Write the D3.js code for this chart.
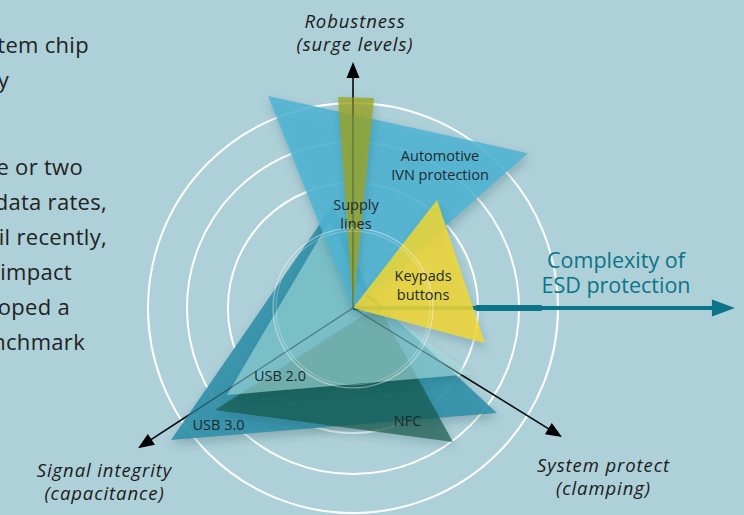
<!DOCTYPE html>
<html><head><meta charset="utf-8">
<script src="https://cdn.jsdelivr.net/npm/d3@7"></script>
<style>
html,body{margin:0;padding:0;background:#aed0d8;}
svg{display:block;}
</style></head><body>
<svg id="chart" width="744" height="515"></svg>
<script>
// ---------------- DATA ----------------
// Body text fragments (cropped paragraph at the left)
const bodyLines = ["tem chip", "y", "e or two", "data rates,", "il recently,", "impact", "oped a", "nchmark"];

// Radar axes: [angle in degrees (ccw from east), length in chart units]
const axisNames = [["Robustness", "(surge levels)"], ["Signal integrity", "(capacitance)"], ["System protect", "(clamping)"]];
const axisAngles = [90, 213.1, -31.7];
const axisLengths = [12.0, 12.52, 11.98];

// Concentric rings (chart units)
const ringValues = [6.1, 8.1, 10];
const innerRingValues = [3.9, 3.75];

// Complexity axis
const complexityTitle = ["Complexity of", "ESD protection"];
const complexityLength = 18.63;
const complexityBand = [6.0, 9.2];

// Application shapes: vertices as [angle deg, value]
const usb30Points = [[101, 5.12], [215.95, 10.97], [-36.1, 8.69], [37.4, 1.04]];
const nfcPoints = [[4.6, 1.22], [216.5, 8.37], [-53.3, 8.16]];
const usb20Points = [[104.6, 4.44], [214.6, 7.47], [-29.0, 6.64], [45, 0.83]];
const automotivePoints = [[111.85, 11.14], [41.5, 11.40], [0, 0]];
const supplyPoints = [[94.07, 10.32], [84.29, 10.30], [0, 0]];
const keypadPoints = [[52.1, 6.67], [-14.85, 6.66], [0, 0]];

const shapeNames = ["USB 3.0", "NFC", "USB 2.0", "Automotive IVN protection", "Supply lines", "Keypads buttons"];
const shapeLabels = [["USB 3.0"], ["NFC"], ["USB 2.0"], ["Automotive", "IVN protection"], ["Supply", "lines"], ["Keypads", "buttons"]];
const shapeLabelAt = [[222.3, 8.87], [-65.2, 6.34], [225, 5.04], [57.68, 7.94], [88.06, 4.32], [14.4, 3.53]];
const shapePoints = [usb30Points, nfcPoints, usb20Points, automotivePoints, supplyPoints, keypadPoints];

// ---------------- STYLES ----------------
const shapeFill = ["#3290a8", "#0d5545", "#a6dede", "#4fb3d3", "#9aa420", "#f2d830"];
const shapeOpacity = [0.9, 0.65, 0.58, 0.86, 0.78, 0.82];
const teal = "#0b7488";
const ink = "#1b1b1b";

// ---------------- LAYOUT ----------------
const W = 744, H = 515;
const cx = 353, cy = 308;
const r = d3.scaleLinear().domain([0, 10]).range([0, 205]);
const rad = d => d * Math.PI / 180;
const pt = (a, v) => [cx + r(v) * Math.cos(rad(a)), cy - r(v) * Math.sin(rad(a))];

const svg = d3.select("#chart");
const defs = svg.append("defs");
const flt = defs.append("filter").attr("id", "shadow")
  .attr("x", "-30%").attr("y", "-30%").attr("width", "160%").attr("height", "170%");
flt.append("feDropShadow").attr("dx", 1).attr("dy", 5).attr("stdDeviation", 5)
  .attr("flood-color", "#1f3f4a").attr("flood-opacity", 0.28);

svg.append("rect").attr("width", W).attr("height", H).attr("fill", "#aed0d8");

// Body text (right-aligned fragments, cropped by the left edge as in the source)
const bodyRight = [89, 9, 83, 107, 107, 72, 70, 85];
const bodyBase = [53, 88, 175, 210, 245, 280, 315, 350];
svg.append("g").selectAll("text").data(bodyLines).join("text")
  .attr("x", (d, i) => bodyRight[i]).attr("y", (d, i) => bodyBase[i])
  .attr("text-anchor", "end")
  .attr("font-family", "'Open Sans', Lato, sans-serif").attr("font-size", 22)
  .attr("letter-spacing", 0.3)
  .attr("fill", "#222").text(d => d);

// Rings
svg.append("g").selectAll("circle").data(ringValues).join("circle")
  .attr("cx", cx).attr("cy", cy).attr("r", d => r(d))
  .attr("fill", "none").attr("stroke", "#ffffff").attr("stroke-width", 2);

// Axes (under shapes)
function arrowHead(a, len, L, Wd) {
  const [tx, ty] = pt(a, len);
  const ux = Math.cos(rad(a)), uy = -Math.sin(rad(a));
  const bx = tx - L * ux, by = ty - L * uy;
  const nx = -uy, ny = ux;
  return `M${tx},${ty}L${bx + Wd * nx},${by + Wd * ny}L${bx - Wd * nx},${by - Wd * ny}Z`;
}
const axisG = svg.append("g");
axisG.selectAll("line").data(axisAngles).join("line")
  .attr("x1", cx).attr("y1", cy)
  .attr("x2", (d, i) => pt(d, axisLengths[i] - 0.6)[0])
  .attr("y2", (d, i) => pt(d, axisLengths[i] - 0.6)[1])
  .attr("stroke", "#000").attr("stroke-width", 1.5);
axisG.selectAll("path").data(axisAngles).join("path")
  .attr("d", (d, i) => arrowHead(d, axisLengths[i], 16, 6.5)).attr("fill", "#000");

// Shapes
const radial = d3.lineRadial()
  .angle(d => rad(90 - d[0]))
  .radius(d => r(d[1]))
  .curve(d3.curveLinearClosed);

const shapeG = svg.append("g").attr("transform", `translate(${cx},${cy})`);
function drawShape(i) {
  shapeG.append("path").datum(shapePoints[i])
    .attr("d", radial)
    .attr("fill", shapeFill[i]).attr("fill-opacity", shapeOpacity[i])
    .attr("filter", "url(#shadow)");
}
[0, 1, 2, 3, 4].forEach(drawShape);

// Complexity axis (under keypads shape)
const cxG = svg.append("g");
const cEnd = pt(0, complexityLength - 1.1);
cxG.append("line").attr("x1", cx).attr("y1", cy).attr("x2", cEnd[0]).attr("y2", cEnd[1])
  .attr("stroke", teal).attr("stroke-width", 4);
cxG.append("line")
  .attr("x1", pt(0, complexityBand[0])[0]).attr("y1", cy)
  .attr("x2", pt(0, complexityBand[1])[0]).attr("y2", cy)
  .attr("stroke", teal).attr("stroke-width", 6);
cxG.append("path").attr("d", arrowHead(0, complexityLength, 23, 8.5)).attr("fill", teal);

// Keypads on top
const kpG = svg.append("g").attr("transform", `translate(${cx},${cy})`);
kpG.append("path").datum(shapePoints[5]).attr("d", radial)
  .attr("fill", shapeFill[5]).attr("fill-opacity", shapeOpacity[5])
  .attr("filter", "url(#shadow)");

// Faint overlay of axes through shapes
svg.append("g").selectAll("line").data(axisAngles).join("line")
  .attr("x1", cx).attr("y1", cy)
  .attr("x2", (d, i) => pt(d, axisLengths[i] - 0.6)[0])
  .attr("y2", (d, i) => pt(d, axisLengths[i] - 0.6)[1])
  .attr("stroke", "#1a2a2e").attr("stroke-opacity", 0.45).attr("stroke-width", 1.1);

// Inner faint ring
svg.append("g").selectAll("circle").data(innerRingValues).join("circle")
  .attr("cx", cx).attr("cy", cy).attr("r", d => r(d))
  .attr("fill", "none").attr("stroke", "#ffffff")
  .attr("stroke-opacity", (d, i) => i === 0 ? 0.4 : 0.25).attr("stroke-width", 1.3);

// Shape labels
const labG = svg.append("g");
shapeLabels.forEach((lines, i) => {
  const [lx, ly] = pt(shapeLabelAt[i][0], shapeLabelAt[i][1]);
  const n = lines.length;
  labG.append("text")
    .attr("text-anchor", "middle")
    .attr("font-family", "'Open Sans', Lato, sans-serif").attr("font-size", 14.5)
    .attr("fill", "#1c2a30")
    .selectAll("tspan").data(lines).join("tspan")
    .attr("x", lx).attr("y", (d, k) => ly + (k - (n - 1) / 2) * 19)
    .text(d => d);
});

// Axis titles
const titleAt = [[355, 28], [104.5, 477], [603.5, 472]];
axisNames.forEach((lines, i) => {
  svg.append("text")
    .attr("text-anchor", "middle")
    .attr("font-family", "'Open Sans', Lato, sans-serif").attr("font-style", "italic")
    .attr("font-size", 18.5).attr("letter-spacing", 0.9).attr("fill", ink)
    .selectAll("tspan").data(lines).join("tspan")
    .attr("x", titleAt[i][0]).attr("y", (d, k) => titleAt[i][1] + k * 22.5)
    .text(d => d);
});

// Complexity title
svg.append("text")
  .attr("text-anchor", "middle")
  .attr("font-family", "'Open Sans', Lato, sans-serif").attr("font-size", 21.5)
  .attr("fill", teal)
  .selectAll("tspan").data(complexityTitle).join("tspan")
  .attr("x", 616).attr("y", (d, k) => 268 + k * 25)
  .text(d => d);
</script>
</body></html>
